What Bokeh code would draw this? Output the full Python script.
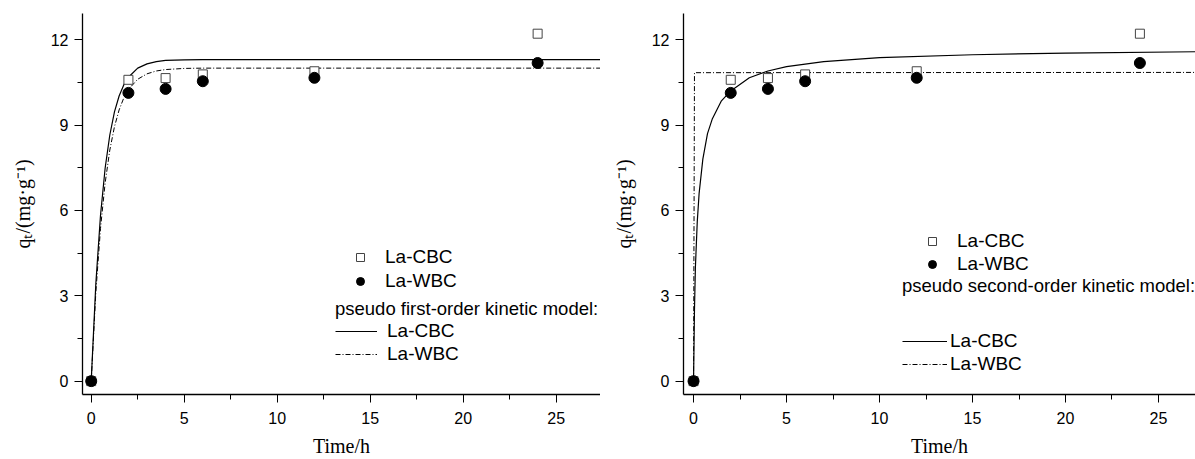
from bokeh.plotting import figure
from bokeh.layouts import row
from bokeh.models import Range1d, SingleIntervalTicker, Legend, LegendItem
from bokeh.embed import file_html
from bokeh.resources import INLINE

# ---------------- data ----------------
time_h = [0, 2, 4, 6, 12, 24]
q_cbc = [0, 10.59, 10.65, 10.78, 10.89, 12.21]
q_wbc = [0, 10.13, 10.27, 10.54, 10.66, 11.18]

# pseudo first-order model curves (left panel)
pfo_t = [0, 0.25, 0.5, 0.75, 1, 1.25, 1.5, 1.75, 2, 2.5, 3, 3.5, 4, 5, 6, 27.5]
pfo_cbc = [0, 3.44, 5.83, 7.49, 8.65, 9.46, 10.02, 10.41, 10.68, 11.00, 11.15, 11.23, 11.27, 11.29, 11.30, 11.30]
pfo_wbc = [0, 3.13, 5.37, 6.97, 8.12, 8.94, 9.53, 9.95, 10.25, 10.61, 10.80, 10.90, 10.95, 10.99, 11.00, 11.00]

# pseudo second-order model curves (right panel)
pso_t_cbc = [0, 0.05, 0.1, 0.2, 0.3, 0.5, 0.75, 1, 1.5, 2, 3, 4, 5, 7, 10, 15, 20, 27.5]
pso_cbc = [0, 2.5, 4.0, 5.6, 6.6, 7.8, 8.7, 9.2, 9.85, 10.2, 10.66, 10.9, 11.05, 11.23, 11.37, 11.47, 11.53, 11.58]
pso_t_wbc = [0, 0.05, 27.5]
pso_wbc = [0, 10.84, 10.85]

x_tick_interval = 5
y_tick_interval = 3
x_label = "Time/h"
y_label = "q\u209c/(mg\u00b7g\u207b\u00b9)"

SANS = "Liberation Sans"
SERIF = "Liberation Serif"


def panel(width, border_left, x0, x1, fit_t_c, fit_c, fit_t_w, fit_w, title, l1, l2):
    p = figure(width=width, height=459, output_backend="svg", toolbar_location=None,
               x_range=Range1d(x0, x1), y_range=Range1d(-0.47, 12.92),
               min_border_left=border_left, min_border_right=0,
               min_border_top=13, min_border_bottom=64)
    p.outline_line_color = None
    p.grid.visible = False
    for ax in (p.xaxis, p.yaxis):
        ax.axis_line_width = 1.3
        ax.axis_line_color = "black"
        ax.major_tick_line_color = "black"
        ax.minor_tick_line_color = "black"
        ax.major_tick_in = 0
        ax.minor_tick_in = 0
        ax.major_tick_out = 8
        ax.minor_tick_out = 5
        ax.major_label_text_font = SANS
        ax.major_label_text_font_size = "16px"
        ax.major_label_text_color = "black"
        ax.axis_label_text_font = SERIF
        ax.axis_label_text_font_style = "normal"
        ax.axis_label_text_font_size = "20px"
        ax.axis_label_text_color = "black"
    p.xaxis.ticker = SingleIntervalTicker(interval=x_tick_interval, num_minor_ticks=2)
    p.yaxis.ticker = SingleIntervalTicker(interval=y_tick_interval, num_minor_ticks=2)
    p.xaxis.major_label_standoff = 9
    p.yaxis.major_label_standoff = 6
    p.xaxis.axis_label = x_label
    p.xaxis.axis_label_standoff = 8
    p.yaxis.axis_label = y_label
    p.yaxis.axis_label_standoff = 14

    r_fc = p.line(fit_t_c, fit_c, line_color="black", line_width=1.2)
    r_fw = p.line(fit_t_w, fit_w, line_color="black", line_width=1.0, line_dash="5 2 1 2")
    r_sc = p.scatter(time_h, q_cbc, marker="square", size=9, fill_color="white",
                     line_color="#444444", line_width=1)
    r_sw = p.scatter(time_h, q_wbc, marker="circle", size=11, fill_color="black",
                     line_color="black")

    common = dict(border_line_alpha=0, background_fill_alpha=0, padding=0, margin=0,
                  label_text_font=SANS, label_text_font_size="19px",
                  label_text_color="black", label_height=22, glyph_height=22)
    leg1 = Legend(items=[LegendItem(label="La-CBC", renderers=[r_sc]),
                         LegendItem(label="La-WBC", renderers=[r_sw])],
                  location=l1["loc"], glyph_width=20, label_standoff=l1["standoff"],
                  spacing=l1["spacing"], **common)
    leg2 = Legend(items=[LegendItem(label="La-CBC", renderers=[r_fc]),
                         LegendItem(label="La-WBC", renderers=[r_fw])],
                  location=l2["loc"], glyph_width=l2["gw"], label_standoff=l2["standoff"],
                  spacing=l2["spacing"], title=title, title_text_font=SANS,
                  title_text_font_size="18.5px", title_text_font_style="normal",
                  title_text_color="black", title_standoff=l2["tstand"], **common)
    p.add_layout(leg1)
    p.add_layout(leg2)
    return p


left = panel(600, 82, -0.468, 27.38, pfo_t, pfo_cbc, pfo_t, pfo_wbc,
             "pseudo first-order kinetic model:",
             dict(loc=(268, 102), standoff=15, spacing=2),
             dict(loc=(253, 29), gw=42, standoff=10, spacing=1, tstand=0))
right = panel(595, 83, -0.54, 26.99, pso_t_cbc, pso_cbc, pso_t_wbc, pso_wbc,
              "pseudo second-order kinetic model:",
              dict(loc=(239, 119), standoff=15, spacing=1),
              dict(loc=(219, 19), gw=45, standoff=3, spacing=1, tstand=33))

layout = row(left, right, spacing=0)
open("out.html", "w").write(file_html(layout, INLINE))
